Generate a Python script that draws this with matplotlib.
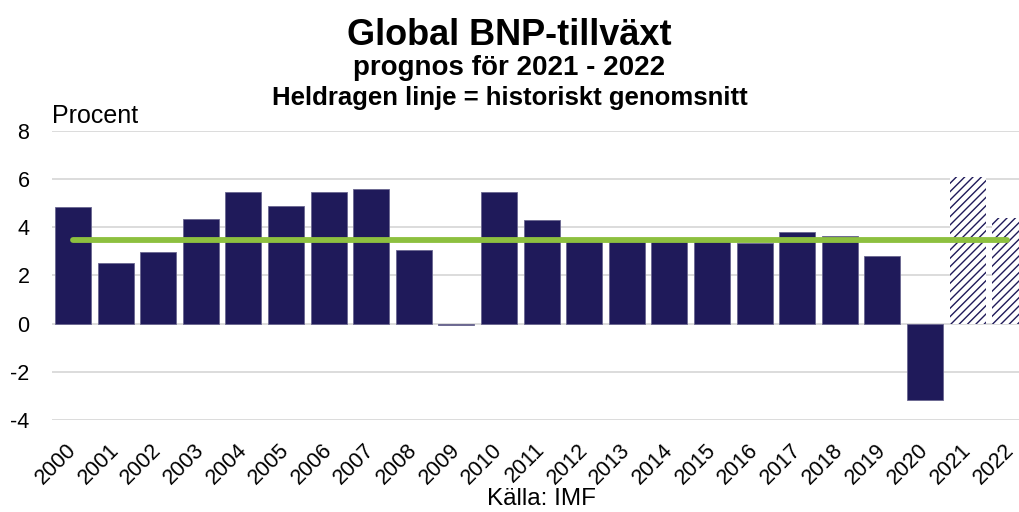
import matplotlib
matplotlib.use("Agg")
import matplotlib.pyplot as plt
import matplotlib.transforms as mtransforms
import numpy as np

plt.rcParams["font.family"] = ["Liberation Sans", "DejaVu Sans"]
plt.rcParams["axes.unicode_minus"] = False
plt.rcParams["hatch.color"] = "#1F1A5A"
plt.rcParams["hatch.linewidth"] = 1.0

years = [str(y) for y in range(2000, 2023)]
growth = [4.84, 2.5, 2.97, 4.34, 5.46, 4.88, 5.46, 5.59, 3.06, -0.07,
          5.46, 4.3, 3.5, 3.45, 3.5, 3.45, 3.34, 3.8, 3.62, 2.8,
          -3.17, 6.1, 4.4]
forecast_years = ["2021", "2022"]
hist_avg = 3.47

navy = "#1F1A5A"
green = "#8DC03F"

fig = plt.figure(figsize=(10.19, 5.12), dpi=100)
ax = fig.add_axes([0.0507, 0.1797, 0.9615, 0.5645])

x = np.arange(len(years))
for i, (yr, v) in enumerate(zip(years, growth)):
    if yr in forecast_years:
        ax.bar(i, v, width=0.845, color="white", edgecolor=navy, linewidth=0, hatch="////")
    else:
        ax.bar(i, v, width=0.845, color=navy, edgecolor="#6A6690", linewidth=0.6)

# historical average
ax.plot([0, len(years) - 1.07], [hist_avg, hist_avg], color=green, linewidth=4.2,
        solid_capstyle="round", zorder=5)

ax.set_xlim(-0.5, len(years) - 0.5)
ax.set_ylim(-4, 8)
ax.set_yticks(np.arange(-4, 9, 2))
ax.yaxis.grid(True, color="#D9D9D9", linewidth=1.3)
ax.set_axisbelow(True)
for s in ax.spines.values():
    s.set_visible(False)
ax.tick_params(axis="both", length=0)
ax.tick_params(axis="y", pad=16, labelsize=15.5)
ax.tick_params(axis="x", pad=14)
ax.set_xticks(x)
ax.set_xticklabels(years, rotation=45, ha="right", rotation_mode="anchor", fontsize=15.5)
shift = mtransforms.ScaledTranslation(-7 / 100, 0, fig.dpi_scale_trans)
for lbl in ax.get_xticklabels():
    lbl.set_transform(lbl.get_transform() + shift)

fig.text(0.5, 0.912, "Global BNP-tillväxt", ha="center", va="baseline", fontsize=26, fontweight="bold")
fig.text(0.5, 0.8535, "prognos för 2021 - 2022", ha="center", va="baseline", fontsize=20, fontweight="bold")
fig.text(0.5, 0.795, "Heldragen linje = historiskt genomsnitt", ha="center", va="baseline", fontsize=18.5, fontweight="bold")
fig.text(0.051, 0.76, "Procent", ha="left", va="baseline", fontsize=18)
fig.text(0.531, 0.014, "Källa: IMF", ha="center", va="baseline", fontsize=17.5)

fig.savefig("out.png", dpi=100)
